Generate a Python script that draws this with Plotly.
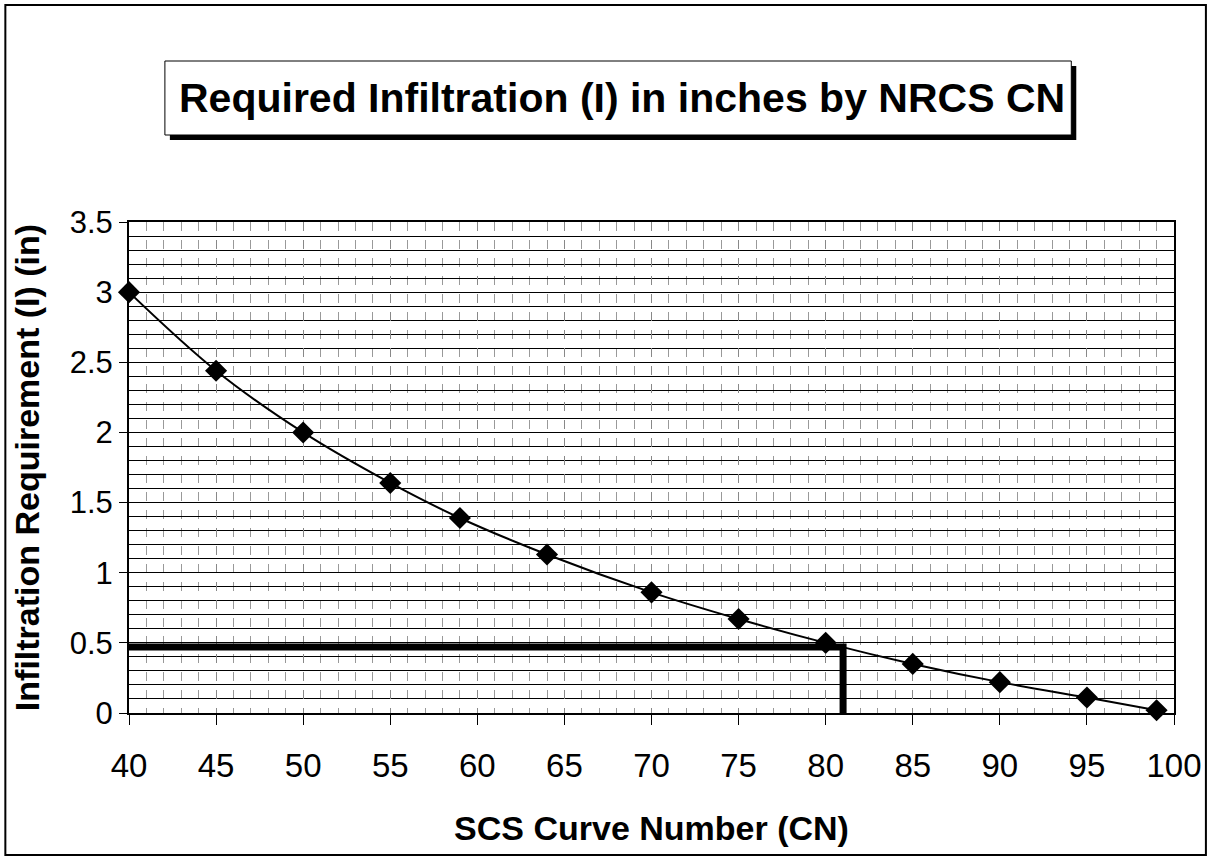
import plotly.graph_objects as go

# Data
cn_values = [40, 45, 50, 55, 59, 64, 70, 75, 80, 85, 90, 95, 99]
infiltration_in = [3.0, 2.44, 2.0, 1.64, 1.39, 1.13, 0.86, 0.67, 0.50, 0.35, 0.22, 0.11, 0.02]

ref_cn = 81
ref_i = 0.47

title_text = "Required Infiltration (I) in inches by NRCS CN"
x_title = "SCS Curve Number (CN)"
y_title = "Infiltration Requirement (I) (in)"

W, H = 1214, 857
L, R, T, B = 129, 37, 222, 144
PW = W - L - R
PH = H - T - B


def px(x):
    return (x - L) / PW


def py(y):
    return (H - B - y) / PH


fig = go.Figure()

# reference lines
fig.add_trace(go.Scatter(
    x=[cn_values[0], ref_cn, ref_cn], y=[ref_i, ref_i, 0],
    mode="lines", line=dict(color="black", width=7),
    hoverinfo="skip", showlegend=False, cliponaxis=False,
))

fig.add_trace(go.Scatter(
    x=cn_values, y=infiltration_in,
    mode="lines+markers",
    line=dict(color="black", width=2, shape="spline"),
    marker=dict(symbol="diamond", size=17, color="black"),
    showlegend=False, cliponaxis=False,
))

font_family = "Liberation Sans, Arial, sans-serif"

fig.update_layout(
    width=W, height=H,
    margin=dict(l=L, r=R, t=T, b=B),
    paper_bgcolor="white",
    plot_bgcolor="white",
    font=dict(family=font_family, color="black"),
    xaxis=dict(
        range=[40, 100], dtick=5, tick0=40,
        showline=True, linecolor="black", linewidth=2, mirror=True,
        ticks="outside", ticklen=10, tickwidth=1, tickcolor="black",
        ticklabelstandoff=12,
        tickfont=dict(size=33, family=font_family),
        showgrid=True, gridcolor="#888", griddash="dash", gridwidth=1,
        minor=dict(dtick=1, showgrid=True, gridcolor="#999", griddash="dash", gridwidth=1),
        zeroline=False,
        title=dict(text="<b>" + x_title + "</b>", font=dict(size=34, family=font_family), standoff=34),
    ),
    yaxis=dict(
        range=[0, 3.5], dtick=0.5, tick0=0,
        showline=True, linecolor="black", linewidth=2, mirror=True,
        ticks="outside", ticklen=8, tickwidth=1, tickcolor="black",
        tickfont=dict(size=31, family=font_family),
        showgrid=True, gridcolor="black", gridwidth=1,
        minor=dict(dtick=0.1, showgrid=True, gridcolor="black", gridwidth=1),
        zeroline=False,
        title=dict(text="<b>" + y_title + "</b>", font=dict(size=34, family=font_family), standoff=20),
    ),
    shapes=[
        # outer border
        dict(type="rect", xref="paper", yref="paper",
             x0=px(5), x1=px(1209), y0=py(855), y1=py(5),
             line=dict(color="black", width=2), fillcolor="rgba(0,0,0,0)", layer="below"),
        # title shadow
        dict(type="rect", xref="paper", yref="paper",
             x0=px(170), x1=px(1079), y0=py(140), y1=py(66),
             line=dict(width=0), fillcolor="black"),
        # title box
        dict(type="rect", xref="paper", yref="paper",
             x0=px(165), x1=px(1074), y0=py(135), y1=py(61),
             line=dict(color="black", width=1), fillcolor="white"),
    ],
    annotations=[
        dict(text="<b>" + title_text + "</b>", xref="paper", yref="paper",
             x=px(623), y=py(98), xanchor="center", yanchor="middle",
             showarrow=False, font=dict(size=41, family=font_family, color="black")),
    ],
)

fig.write_html("out.html", config={"displayModeBar": False},
               post_script="document.body.style.margin='0';document.body.style.padding='0';")
